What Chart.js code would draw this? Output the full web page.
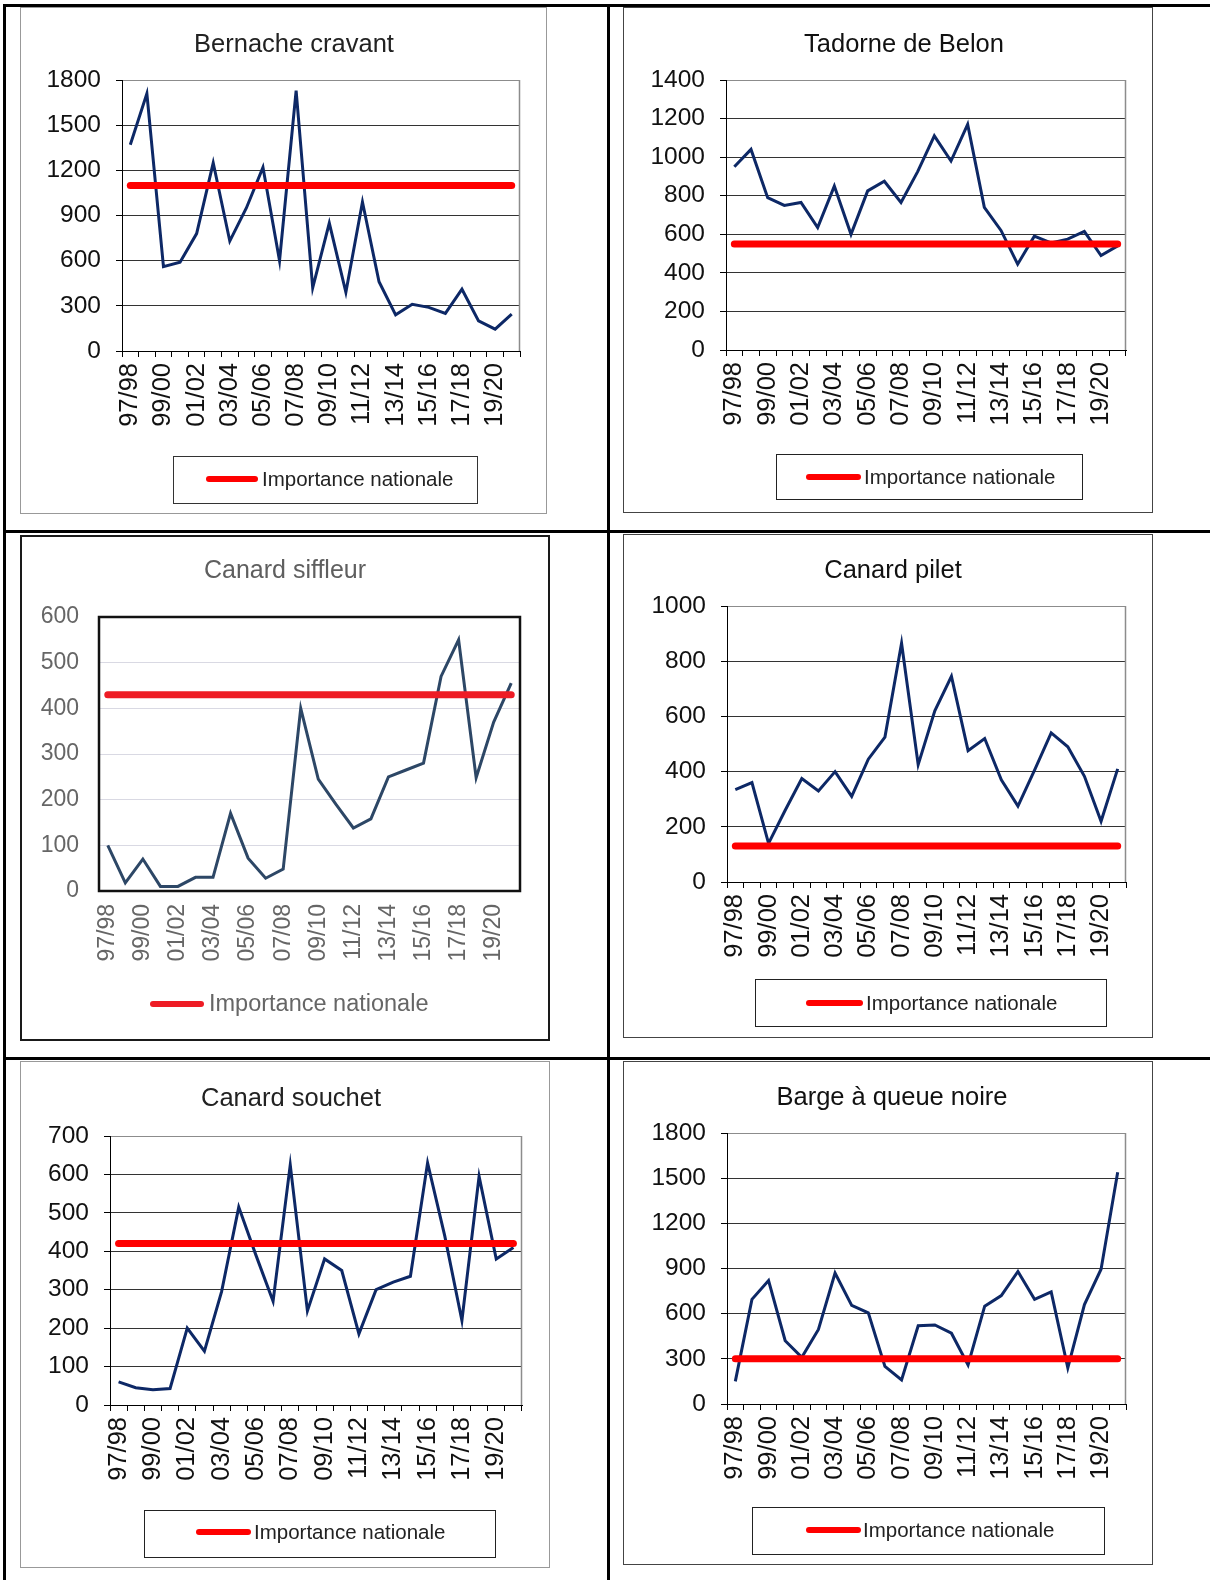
<!DOCTYPE html>
<html><head><meta charset="utf-8">
<script src="https://cdn.jsdelivr.net/npm/chart.js@4.4.1/dist/chart.umd.min.js"></script>
<style>
html,body{margin:0;padding:0;background:#fff;}
body{width:1210px;height:1580px;position:relative;overflow:hidden;font-family:"Liberation Sans",Arial,sans-serif;}
.rule{position:absolute;background:#000;}
.box{position:absolute;box-sizing:border-box;pointer-events:none;}
canvas{position:absolute;}
</style></head><body>
<script>
// ---------- DATA ----------
const seasons = ['97/98','98/99','99/00','00/01','01/02','02/03','03/04','04/05','05/06','06/07','07/08','08/09',
                 '09/10','10/11','11/12','12/13','13/14','14/15','15/16','16/17','17/18','18/19','19/20','20/21'];

const bernacheCounts = [1370,1710,560,590,780,1250,730,950,1220,600,1730,420,850,390,990,460,240,310,290,250,410,200,145,245];
const bernacheNational = 1100;

const tadorneCounts = [950,1040,790,750,765,635,850,600,825,875,765,925,1110,980,1170,740,620,445,590,555,575,615,490,540];
const tadorneNational = 550;

const siffleurCounts = [100,18,70,10,10,30,30,170,72,28,48,400,245,190,138,158,250,265,280,470,550,248,370,455];
const siffleurNational = 430;

const piletCounts = [335,360,140,260,375,330,400,310,445,525,865,425,620,745,476,520,370,275,405,540,490,383,220,410];
const piletNational = 130;

const souchetCounts = [60,45,40,43,200,140,295,515,390,270,625,245,380,350,185,300,320,335,630,440,220,595,380,410];
const souchetNational = 420;

const bargeCounts = [150,695,820,420,310,495,870,655,605,250,160,520,525,470,260,650,720,880,695,745,240,660,895,1540];
const bargeNational = 300;

const legendLabel = 'Importance nationale';

// ---------- LAYOUT ----------
function rule(x, y, w, h) {
  const d = document.createElement('div');
  d.className = 'rule';
  d.style.cssText = `left:${x}px;top:${y}px;width:${w}px;height:${h}px;`;
  document.body.appendChild(d);
}
rule(3, 4, 1207, 3);
rule(3, 4, 3, 1576);
rule(607, 4, 3, 1576);
rule(3, 530, 1207, 3);
rule(3, 1057, 1207, 3);

const FONT = '"Liberation Sans", Arial, sans-serif';

function makeChart(cfg) {
  const bx = cfg.box;
  const W = bx[2] - bx[0], H = bx[3] - bx[1];
  const canvas = document.createElement('canvas');
  canvas.width = W; canvas.height = H;
  canvas.style.cssText = `left:${bx[0]}px;top:${bx[1]}px;width:${W}px;height:${H}px;`;
  document.body.appendChild(canvas);
  const frame = document.createElement('div');
  frame.className = 'box';
  frame.style.cssText = `left:${bx[0]}px;top:${bx[1]}px;width:${W}px;height:${H}px;border:${cfg.boxBorder};`;
  document.body.appendChild(frame);

  const cl = cfg.plot[0] - bx[0], ct = cfg.plot[1] - bx[1], cr = cfg.plot[2] - bx[0], cb = cfg.plot[3] - bx[1];
  const tx = cfg.titleAt[0] - bx[0], ty = cfg.titleAt[1] - bx[1];
  const pr = W - cr;
  const pl = Math.max(0, 2 * tx - cr);
  const yW = cl - pl;
  const xH = 95;
  const pb = H - cb - xH;
  const F = cfg.titleSize;
  const pt = ty - 0.6 * F;
  const ptb = ct - 1.2 * F - pt;
  const lg = cfg.legend;
  const ox = bx[0], oy = bx[1];

  const legendPlugin = {
    id: 'boxLegend',
    afterDraw(chart) {
      const ctx = chart.ctx;
      ctx.save();
      if (lg.box) {
        ctx.strokeStyle = lg.boxColor || '#222';
        ctx.lineWidth = 1;
        ctx.strokeRect(Math.round(lg.box[0] - ox) + 0.5, Math.round(lg.box[1] - oy) + 0.5,
                       lg.box[2] - lg.box[0], lg.box[3] - lg.box[1]);
      }
      const red = chart.data.datasets[1];
      ctx.strokeStyle = red.borderColor;
      ctx.lineWidth = 6;
      ctx.lineCap = 'round';
      ctx.beginPath();
      ctx.moveTo(lg.line[0] - ox + 3, lg.line[2] - oy);
      ctx.lineTo(lg.line[1] - ox - 3, lg.line[2] - oy);
      ctx.stroke();
      ctx.fillStyle = lg.color || '#111';
      ctx.font = `${lg.size || 20.5}px ${FONT}`;
      ctx.textBaseline = 'middle';
      ctx.textAlign = 'left';
      ctx.fillText(red.label, lg.textX - ox, lg.line[2] - oy + 1);
      ctx.restore();
    }
  };
  const framePlugin = {
    id: 'plotFrame',
    beforeDatasetsDraw(chart) {
      const a = chart.chartArea, ctx = chart.ctx;
      ctx.save();
      if (cfg.heavyFrame) {
        ctx.strokeStyle = '#111';
        ctx.lineWidth = 2.5;
        ctx.strokeRect(a.left, a.top, a.right - a.left, a.bottom - a.top);
      } else {
        ctx.strokeStyle = '#8c8c8c';
        ctx.lineWidth = 1.5;
        ctx.beginPath();
        ctx.moveTo(Math.round(a.right) - 0.5, a.top);
        ctx.lineTo(Math.round(a.right) - 0.5, a.bottom);
        ctx.stroke();
      }
      ctx.restore();
    }
  };

  const heavy = !!cfg.heavyFrame;
  new Chart(canvas, {
    type: 'line',
    data: {
      labels: seasons,
      datasets: [
        { label: 'Effectif', data: cfg.counts, borderColor: cfg.lineColor, borderWidth: 3,
          pointRadius: 0, tension: 0, borderJoinStyle: 'miter', order: 1 },
        { label: legendLabel, data: seasons.map(() => cfg.national), borderColor: cfg.redColor,
          borderWidth: 7, borderCapStyle: 'round', pointRadius: 0, order: 0 }
      ]
    },
    options: {
      responsive: false, animation: false, devicePixelRatio: 1,
      layout: { padding: { left: pl, right: pr, top: 0, bottom: pb } },
      plugins: {
        legend: { display: false },
        tooltip: { enabled: false },
        title: { display: true, text: cfg.title, color: cfg.titleColor,
                 font: { family: FONT, size: F, weight: 'normal' },
                 padding: { top: pt, bottom: ptb } }
      },
      scales: {
        x: {
          offset: true,
          grid: { offset: true, drawOnChartArea: false, drawTicks: !heavy, tickLength: 6, color: '#000' },
          border: { display: !heavy, color: '#000', width: 1 },
          ticks: { autoSkip: false, minRotation: 90, maxRotation: 90, padding: heavy ? 13 : 6,
                   color: cfg.tickColor, font: { family: FONT, size: cfg.xFont },
                   callback: function (v, i) { return i % 2 === 0 ? this.getLabelForValue(v) : ''; } },
          afterFit: (s) => { s.height = xH; s.paddingLeft = 0; s.paddingRight = 0; }
        },
        y: {
          min: 0, max: cfg.max,
          ticks: { stepSize: cfg.step, padding: heavy ? 20 : 15, color: cfg.tickColor,
                   font: { family: FONT, size: cfg.yFont },
                   callback: (v) => String(v) },
          grid: { drawTicks: !heavy, tickLength: 6,
                  color: (c) => heavy ? '#d9d9e3' : (c.tick && c.tick.value === cfg.max ? '#8c8c8c' : '#333'),
                  tickColor: '#000' },
          border: { display: !heavy, color: '#000', width: 1 },
          afterFit: (s) => {
            s.width = yW; s.paddingTop = 0; s.paddingBottom = 0;
            // let the tick labels extend into the left padding instead of being clipped
            s._computeLabelArea = function () { return undefined; };
          }
        }
      }
    },
    plugins: [framePlugin, legendPlugin]
  });
}

const navy = '#0d2866';
const red = '#ff0000';

makeChart({ title: 'Bernache cravant', counts: bernacheCounts, national: bernacheNational, max: 1800, step: 300,
  box: [20, 7, 547, 514], plot: [122, 80, 520, 351], titleAt: [294, 45], titleSize: 25.5, titleColor: '#222',
  boxBorder: '1px solid #999', lineColor: navy, redColor: red, tickColor: '#111', xFont: 25.5, yFont: 24.5,
  legend: { box: [173, 456, 477, 503], line: [206, 258, 479], textX: 262, boxColor: '#333', color: '#222' } });

makeChart({ title: 'Tadorne de Belon', counts: tadorneCounts, national: tadorneNational, max: 1400, step: 200,
  box: [623, 7, 1153, 513], plot: [726, 80, 1126, 350], titleAt: [904, 45], titleSize: 25.5, titleColor: '#111',
  boxBorder: '1px solid #444', lineColor: navy, redColor: red, tickColor: '#111', xFont: 25.5, yFont: 24.5,
  legend: { box: [776, 454, 1082, 499], line: [806, 861, 477], textX: 864, boxColor: '#222', color: '#222' } });

makeChart({ title: 'Canard siffleur', counts: siffleurCounts, national: siffleurNational, max: 600, step: 100,
  box: [20, 535, 550, 1041], plot: [99, 617, 520, 891], titleAt: [285, 571], titleSize: 25, titleColor: '#5f5f5f',
  boxBorder: '2px solid #1a1a1a', lineColor: '#2d4766', redColor: '#ee1c25', tickColor: '#666', xFont: 23, yFont: 23,
  heavyFrame: true,
  legend: { box: null, line: [150, 204, 1004], textX: 209, size: 23.5, color: '#666' } });

makeChart({ title: 'Canard pilet', counts: piletCounts, national: piletNational, max: 1000, step: 200,
  box: [623, 534, 1153, 1038], plot: [727, 606, 1126, 882], titleAt: [893, 571], titleSize: 25.5, titleColor: '#111',
  boxBorder: '1px solid #444', lineColor: navy, redColor: red, tickColor: '#111', xFont: 25.5, yFont: 24.5,
  legend: { box: [755, 979, 1106, 1026], line: [806, 863, 1003], textX: 866, boxColor: '#222', color: '#222' } });

makeChart({ title: 'Canard souchet', counts: souchetCounts, national: souchetNational, max: 700, step: 100,
  box: [20, 1061, 550, 1568], plot: [110, 1136, 522, 1405], titleAt: [291, 1099], titleSize: 25.5, titleColor: '#222',
  boxBorder: '1px solid #999', lineColor: navy, redColor: red, tickColor: '#111', xFont: 25.5, yFont: 24.5,
  legend: { box: [144, 1510, 495, 1557], line: [196, 251, 1532], textX: 254, boxColor: '#222', color: '#222' } });

makeChart({ title: 'Barge à queue noire', counts: bargeCounts, national: bargeNational, max: 1800, step: 300,
  box: [623, 1061, 1153, 1565], plot: [727, 1133, 1126, 1404], titleAt: [892, 1098], titleSize: 25.5, titleColor: '#111',
  boxBorder: '1px solid #444', lineColor: navy, redColor: red, tickColor: '#111', xFont: 25.5, yFont: 24.5,
  legend: { box: [752, 1507, 1104, 1554], line: [806, 861, 1530], textX: 863, boxColor: '#222', color: '#222' } });
</script>
</body></html>
